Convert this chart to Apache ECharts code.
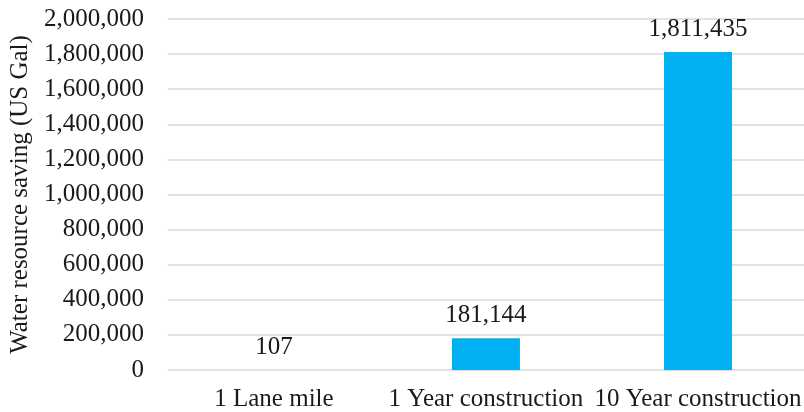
<!DOCTYPE html>
<html>
<head>
<meta charset="utf-8">
<script src="https://cdn.jsdelivr.net/npm/echarts@6/dist/echarts.min.js"></script>
<style>
html, body { margin: 0; padding: 0; background: #fff; }
#chart { width: 804px; height: 412px; }
</style>
</head>
<body>
<div id="chart"></div>
<script>
var categories = ['1 Lane mile', '1 Year construction', '10 Year construction'];
var savings = [107, 181144, 1811435];
var yAxisTitle = 'Water resource saving (US Gal)';

var serif = '"Times New Roman", "Liberation Serif", serif';
var myChart = echarts.init(document.getElementById('chart'));

function fmt(v) {
    return v.toLocaleString('en-US');
}

var option = {
    animation: false,
    textStyle: { fontFamily: serif },
    grid: { left: 163, top: 19, width: 648, bottom: 42, containLabel: false },
    xAxis: {
        type: 'category',
        data: categories,
        axisLine: { show: false },
        axisTick: { show: false },
        axisLabel: { color: '#1a1a1a', fontSize: 25, fontFamily: serif, margin: 17, interval: 0 }
    },
    yAxis: {
        type: 'value',
        min: 0,
        max: 2000000,
        interval: 200000,
        name: yAxisTitle,
        nameLocation: 'middle',
        nameGap: 132,
        nameTextStyle: { color: '#1a1a1a', fontSize: 25, fontFamily: serif },
        axisLine: { show: false },
        axisTick: { show: false },
        axisLabel: {
            color: '#1a1a1a', fontSize: 25, fontFamily: serif, margin: 24,
            formatter: function (v) { return fmt(v); }
        },
        splitLine: { lineStyle: { color: '#d9d9d9', width: 1.5 } }
    },
    series: [{
        type: 'bar',
        data: savings,
        barWidth: 68,
        itemStyle: { color: '#00b0f0' },
        label: {
            show: true,
            position: 'top',
            distance: 10,
            color: '#1a1a1a',
            fontSize: 25,
            fontFamily: serif,
            formatter: function (p) { return fmt(p.value); }
        }
    }]
};

option && myChart.setOption(option);
window.addEventListener('resize', function () {
    myChart.resize();
});
</script>
</body>
</html>
